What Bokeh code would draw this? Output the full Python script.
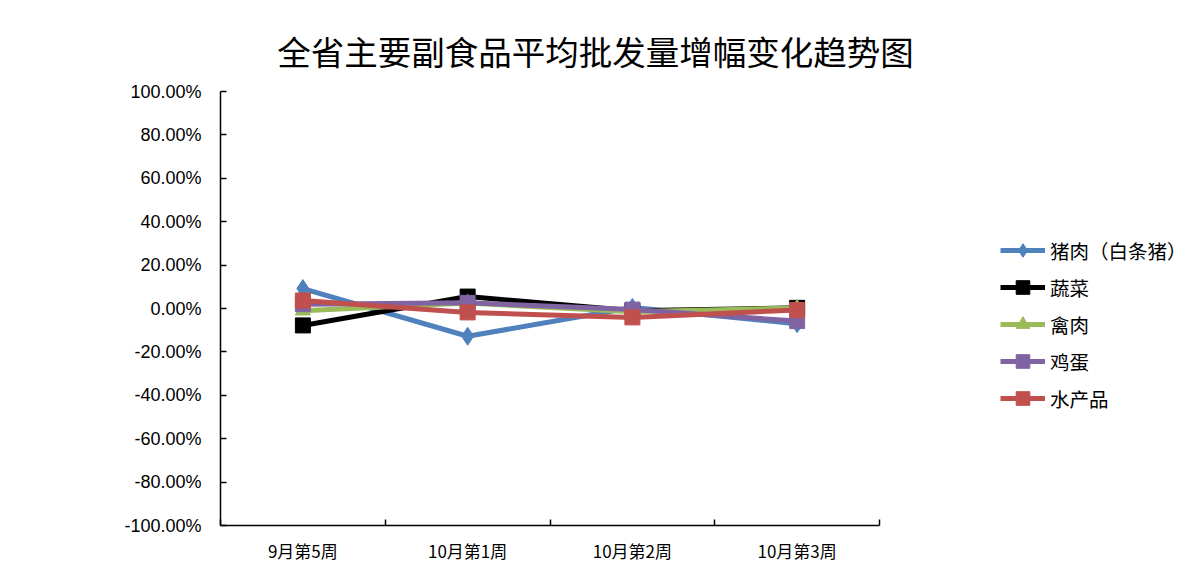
from bokeh.plotting import figure
from bokeh.models import (ColumnDataSource, FixedTicker, NumeralTickFormatter,
                          Legend, LegendItem, Label, Range1d)
from bokeh.embed import file_html
from bokeh.resources import INLINE

title_text = "全省主要副食品平均批发量增幅变化趋势图"
weeks = ["9月第5周", "10月第1周", "10月第2周", "10月第3周"]

# percent values
pork = [9.2, -12.8, 0.5, -7.0]
vegetables = [-7.8, 5.5, -1.0, 0.3]
poultry = [-1.0, 2.5, -1.5, 0.2]
eggs = [2.0, 2.6, -0.5, -5.8]
aquatic = [3.7, -1.8, -4.1, -0.7]

series = [
    ("猪肉（白条猪）", pork, "#4F81BD", "diamond", 18),
    ("蔬菜", vegetables, "#000000", "square", 15),
    ("禽肉", poultry, "#9BBB59", "triangle", 15),
    ("鸡蛋", eggs, "#8064A2", "square", 15),
    ("水产品", aquatic, "#C0504D", "square", 15),
]

W, H = 1193, 567
# plot area geometry (pixels)
left, axis_right, bottom_px = 220, 879, 525
top_axis = 91
n = len(weeks)
px_per_x = (axis_right - left) / n
px_per_y = (bottom_px - top_axis) / 2.0
x_end = n + (W - axis_right) / px_per_x
y_end = 1.0 + top_axis / px_per_y

p = figure(width=W, height=H, output_backend="svg", toolbar_location=None,
           x_range=Range1d(0, x_end), y_range=Range1d(-1.0, y_end),
           min_border_left=left, min_border_right=0, min_border_top=0,
           min_border_bottom=H - bottom_px)
p.outline_line_color = None
p.xgrid.visible = False
p.ygrid.visible = False
p.background_fill_color = "white"
p.border_fill_color = "white"

xs = [i + 0.5 for i in range(n)]
items = []
for name, vals, color, marker, size in series:
    src = ColumnDataSource(dict(x=xs, y=[v / 100.0 for v in vals]))
    r1 = p.line("x", "y", source=src, line_color=color, line_width=5)
    r2 = p.scatter("x", "y", source=src, marker=marker, size=size,
                   fill_color=color, line_color=color)
    items.append(LegendItem(label=name, renderers=[r1, r2]))

# x axis
p.xaxis.bounds = (0, n)
p.xaxis.ticker = FixedTicker(ticks=xs, minor_ticks=list(range(n + 1)))
p.xaxis.major_label_overrides = {x: w for x, w in zip(xs, weeks)}
p.xaxis.major_tick_line_color = None
p.xaxis.minor_tick_in = 6
p.xaxis.minor_tick_out = 0
p.xaxis.minor_tick_line_color = "black"
p.xaxis.minor_tick_line_width = 1.5
p.xaxis.axis_line_color = "black"
p.xaxis.axis_line_width = 1.5
p.xaxis.major_label_text_font = "Noto Sans CJK SC"
p.xaxis.major_label_text_font_size = "17px"
p.xaxis.major_label_text_color = "black"
p.xaxis.major_label_standoff = 6

# y axis
p.yaxis.bounds = (-1.0, 1.0)
p.yaxis.ticker = FixedTicker(ticks=[i / 10.0 for i in range(-10, 11, 2)], minor_ticks=[])
p.yaxis.formatter = NumeralTickFormatter(format="0.00%")
p.yaxis.major_tick_in = 6
p.yaxis.major_tick_out = 0
p.yaxis.major_tick_line_width = 1.5
p.yaxis.major_tick_line_color = "black"
p.yaxis.minor_tick_line_color = None
p.yaxis.axis_line_color = "black"
p.yaxis.axis_line_width = 1.5
p.yaxis.major_label_text_font = "Liberation Sans"
p.yaxis.major_label_text_font_size = "18px"
p.yaxis.major_label_text_color = "black"
p.yaxis.major_label_standoff = 19

legend = Legend(items=items, location=(780, 110), orientation="vertical",
                glyph_width=45, glyph_height=34, label_height=20, spacing=3,
                label_standoff=5, padding=0, margin=0,
                border_line_color=None, background_fill_alpha=0,
                label_text_font="Noto Sans CJK SC", label_text_font_size="19.5px",
                label_text_color="black")
p.add_layout(legend, "center")

title = Label(x=375, y=475, x_units="screen", y_units="screen", text=title_text,
              text_align="center", text_baseline="middle",
              text_font="Noto Sans CJK SC", text_font_size="33.5px", text_color="black")
p.add_layout(title)

open("out.html", "w").write(file_html(p, INLINE))
